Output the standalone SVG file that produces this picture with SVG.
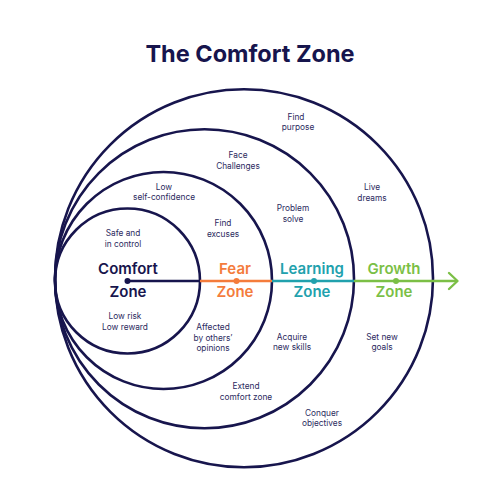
<svg xmlns="http://www.w3.org/2000/svg" width="500" height="500" viewBox="0 0 500 500">
<style>
.ring{fill:none;stroke:#17154d;stroke-width:2.6}
.t{font-family:Inter,"Noto Sans",sans-serif;font-size:8.3px;fill:#2b2a5e;text-anchor:middle}
.z{font-family:Inter,"Noto Sans",sans-serif;font-size:15px;font-weight:600;text-anchor:middle}
.title{font-family:Inter,"Noto Sans",sans-serif;font-size:23.5px;font-weight:700;fill:#17154d;text-anchor:middle}
</style>
<rect width="500" height="500" fill="#ffffff"/>
<text class="title" x="250" y="62">The Comfort Zone</text>
<g id="growth"><circle class="ring" cx="244" cy="278.2" r="189"/>
<text class="z" fill="#7bbf46"><tspan x="394" y="274">Growth</tspan><tspan x="394" y="297">Zone</tspan></text></g>
<g id="learning"><circle class="ring" cx="204.5" cy="278.8" r="149.5"/>
<text class="z" fill="#21a1ad"><tspan x="312" y="274">Learning</tspan><tspan x="312" y="297">Zone</tspan></text></g>
<g id="fear"><circle class="ring" cx="163.5" cy="280.5" r="108.5"/>
<text class="z" fill="#f47c3c"><tspan x="235" y="274">Fear</tspan><tspan x="235" y="297">Zone</tspan></text></g>
<g id="comfort"><circle class="ring" cx="127.5" cy="281" r="72.5"/>
<text class="z" fill="#17154d"><tspan x="128" y="274">Comfort</tspan><tspan x="128" y="297">Zone</tspan></text></g>
<g id="connectors" stroke-width="2.4" fill="none">
<line x1="127.5" y1="281" x2="200" y2="281" stroke="#17154d"/>
<line x1="200" y1="281" x2="272" y2="281" stroke="#f47c3c"/>
<line x1="272" y1="281" x2="354" y2="281" stroke="#21a1ad"/>
<line x1="354" y1="281" x2="457" y2="281" stroke="#7bbf46"/>
<polyline points="449,273 457.5,281 449,289" stroke="#7bbf46" stroke-linecap="round" stroke-linejoin="round"/>
<circle cx="127.5" cy="281" r="3" fill="#17154d" stroke="none"/>
<circle cx="236.5" cy="281" r="3" fill="#f47c3c" stroke="none"/>
<circle cx="314" cy="281" r="3" fill="#21a1ad" stroke="none"/>
<circle cx="396" cy="281" r="3" fill="#7bbf46" stroke="none"/>
</g>
<g id="labels">
<text class="t"><tspan x="296" y="119.9">Find</tspan><tspan x="298" y="130.1">purpose</tspan></text>
<text class="t"><tspan x="238" y="158.4">Face</tspan><tspan x="238" y="168.6">Challenges</tspan></text>
<text class="t"><tspan x="164" y="190.2">Low</tspan><tspan x="164" y="200.4">self-confidence</tspan></text>
<text class="t"><tspan x="372" y="190.4">Live</tspan><tspan x="372" y="200.6">dreams</tspan></text>
<text class="t"><tspan x="293" y="211.4">Problem</tspan><tspan x="293" y="221.6">solve</tspan></text>
<text class="t"><tspan x="223" y="226.4">Find</tspan><tspan x="223" y="236.6">excuses</tspan></text>
<text class="t"><tspan x="123" y="236.4">Safe and</tspan><tspan x="123" y="246.6">in control</tspan></text>
<text class="t"><tspan x="125" y="319.4">Low risk</tspan><tspan x="125" y="329.6">Low reward</tspan></text>
<text class="t"><tspan x="213" y="330.3">Affected</tspan><tspan x="213" y="340.5">by others’</tspan><tspan x="213" y="350.7">opinions</tspan></text>
<text class="t"><tspan x="292" y="340.2">Acquire</tspan><tspan x="292" y="350.4">new skills</tspan></text>
<text class="t"><tspan x="382" y="340.2">Set new</tspan><tspan x="382" y="350.4">goals</tspan></text>
<text class="t"><tspan x="246" y="389.4">Extend</tspan><tspan x="246" y="399.6">comfort zone</tspan></text>
<text class="t"><tspan x="322" y="416.2">Conquer</tspan><tspan x="322" y="426.4">objectives</tspan></text>
</g>
</svg>
